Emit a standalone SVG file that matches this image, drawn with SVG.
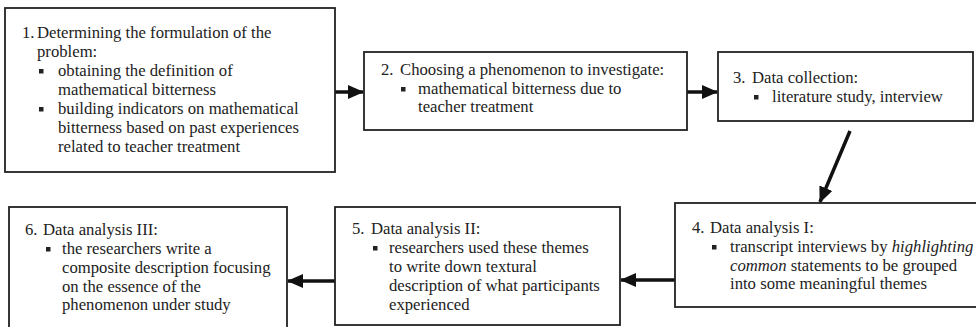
<svg xmlns="http://www.w3.org/2000/svg" width="976" height="327" viewBox="0 0 976 327">
<defs>
<style>
.box{fill:#fff;stroke:#222;stroke-width:1.8}
.t{font-family:'Liberation Serif','Times New Roman',serif;font-size:16.7px;fill:#222}
.i{font-style:italic}
.b{fill:#222}
.c{stroke:#111;stroke-width:3.5;fill:none}
</style>
<marker id="ah" markerUnits="userSpaceOnUse" markerWidth="16" markerHeight="14" refX="15" refY="7" orient="auto">
<path d="M0,0 L16,7 L0,14 Z" fill="#111"/>
</marker>
</defs>
<rect width="976" height="327" fill="#fff"/>

<g id="connectors">
<line class="c" x1="335" y1="92" x2="363" y2="92" marker-end="url(#ah)"/>
<line class="c" x1="687" y1="92" x2="717" y2="92" marker-end="url(#ah)"/>
<line class="c" x1="850" y1="131" x2="820" y2="202" marker-end="url(#ah)"/>
<line class="c" x1="675" y1="280" x2="621" y2="280" marker-end="url(#ah)"/>
<line class="c" x1="335" y1="281" x2="288" y2="281" marker-end="url(#ah)"/>
</g>

<g id="node1">
<rect class="box" x="5" y="8" width="330" height="164"/>
<text class="t" x="22" y="38">1.</text>
<text class="t" x="37" y="38">Determining the formulation of the</text>
<text class="t" x="37" y="57">problem:</text>
<rect class="b" x="39" y="69" width="4.5" height="4.5"/>
<text class="t" x="58" y="76">obtaining the definition of</text>
<text class="t" x="58" y="95">mathematical bitterness</text>
<rect class="b" x="39" y="107" width="4.5" height="4.5"/>
<text class="t" x="58" y="114">building indicators on mathematical</text>
<text class="t" x="58" y="133">bitterness based on past experiences</text>
<text class="t" x="58" y="152">related to teacher treatment</text>
</g>

<g id="node2">
<rect class="box" x="364" y="52" width="323" height="78"/>
<text class="t" x="381" y="75">2.</text>
<text class="t" x="400" y="75">Choosing a phenomenon to investigate:</text>
<rect class="b" x="401" y="87" width="4.5" height="4.5"/>
<text class="t" x="418" y="94">mathematical bitterness due to</text>
<text class="t" x="418" y="112">teacher treatment</text>
</g>

<g id="node3">
<rect class="box" x="718" y="52" width="255" height="69"/>
<text class="t" x="733" y="83">3.</text>
<text class="t" x="752" y="83">Data collection:</text>
<rect class="b" x="754" y="95" width="4.5" height="4.5"/>
<text class="t" x="772" y="102">literature study, interview</text>
</g>

<g id="node4">
<rect class="box" x="675" y="203" width="310" height="104"/>
<text class="t" x="692" y="233">4.</text>
<text class="t" x="710" y="233">Data analysis I:</text>
<rect class="b" x="712" y="245" width="4.5" height="4.5"/>
<text class="t" x="730" y="252">transcript interviews by <tspan class="i">highlighting</tspan></text>
<text class="t" x="730" y="271"><tspan class="i">common</tspan> statements to be grouped</text>
<text class="t" x="730" y="289">into some meaningful themes</text>
</g>

<g id="node5">
<rect class="box" x="335" y="207" width="285" height="118"/>
<text class="t" x="352" y="234">5.</text>
<text class="t" x="371" y="234">Data analysis II:</text>
<rect class="b" x="373" y="246" width="4.5" height="4.5"/>
<text class="t" x="389" y="253">researchers used these themes</text>
<text class="t" x="389" y="272">to write down textural</text>
<text class="t" x="389" y="291">description of what participants</text>
<text class="t" x="389" y="310">experienced</text>
</g>

<g id="node6">
<rect class="box" x="9" y="207" width="278" height="125"/>
<text class="t" x="25" y="235">6.</text>
<text class="t" x="43" y="235">Data analysis III:</text>
<rect class="b" x="46" y="247" width="4.5" height="4.5"/>
<text class="t" x="62" y="254">the researchers write a</text>
<text class="t" x="62" y="273">composite description focusing</text>
<text class="t" x="62" y="292">on the essence of the</text>
<text class="t" x="62" y="310">phenomenon under study</text>
</g>
</svg>
